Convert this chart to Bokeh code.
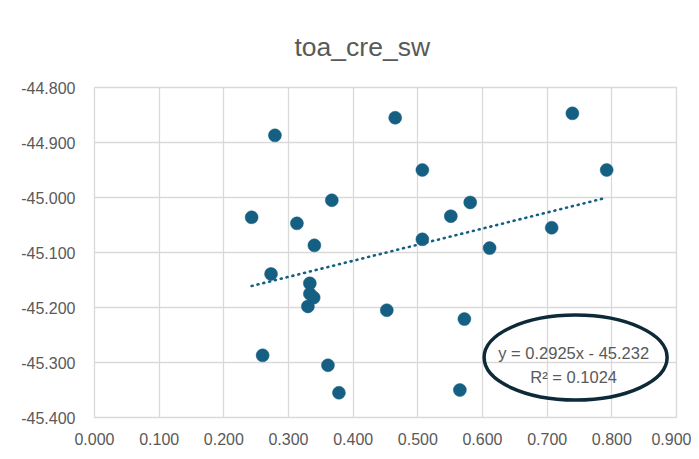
from bokeh.plotting import figure
from bokeh.models import ColumnDataSource, NumeralTickFormatter, FixedTicker, Range1d, Label
from bokeh.embed import file_html
from bokeh.resources import INLINE

# ---- data ----
x_vals = [0.243, 0.273, 0.260, 0.279, 0.313, 0.340, 0.367, 0.333, 0.333, 0.339,
          0.330, 0.361, 0.378, 0.465, 0.507, 0.507, 0.551, 0.581, 0.611, 0.707,
          0.739, 0.792, 0.452, 0.572, 0.565]
y_vals = [-45.036, -45.139, -45.287, -44.887, -45.047, -45.087, -45.005, -45.156, -45.175, -45.182,
          -45.198, -45.305, -45.355, -44.855, -44.950, -45.076, -45.034, -45.009, -45.092, -45.055,
          -44.847, -44.950, -45.205, -45.221, -45.350]
slope = 0.2925
intercept = -45.232
r_squared = 0.1024
title_text = "toa_cre_sw"
x_ticks = [0.0, 0.1, 0.2, 0.3, 0.4, 0.5, 0.6, 0.7, 0.8, 0.9]
y_ticks = [-45.4, -45.3, -45.2, -45.1, -45.0, -44.9, -44.8]

BLUE = "#156082"
GRID = "#d9d9d9"
TXT = "#595959"
FONT = "Liberation Sans"

p = figure(width=691, height=451, output_backend="svg", toolbar_location=None,
           x_range=Range1d(0.0, 0.9), y_range=Range1d(-45.4, -44.8),
           min_border_left=94, min_border_right=15, min_border_top=87, min_border_bottom=34,
           title=title_text)
p.title.align = "left"
p.title.offset = 200
p.title.text_font = FONT
p.title.text_font_size = "26.5px"
p.title.text_font_style = "normal"
p.title.text_color = TXT
p.title.standoff = 51

p.outline_line_color = GRID
p.outline_line_width = 1.3
p.background_fill_color = "white"
p.border_fill_color = "white"

for ax in (p.xaxis[0], p.yaxis[0]):
    ax.axis_line_color = None
    ax.major_tick_line_color = None
    ax.minor_tick_line_color = None
    ax.major_tick_out = 0
    ax.major_tick_in = 0
    ax.major_label_text_font = FONT
    ax.major_label_text_font_size = "16px"
    ax.major_label_text_color = TXT
    ax.formatter = NumeralTickFormatter(format="0.000")

p.xaxis[0].ticker = FixedTicker(ticks=x_ticks)
p.yaxis[0].ticker = FixedTicker(ticks=y_ticks)
p.xaxis[0].major_label_standoff = 15
p.yaxis[0].major_label_standoff = 19

p.xgrid.grid_line_color = GRID
p.ygrid.grid_line_color = GRID
p.xgrid.grid_line_width = 1.3
p.ygrid.grid_line_width = 1.3

# trendline over the x extent of the data
x0, x1 = min(x_vals), max(x_vals)
p.line([x0, x1], [slope * x0 + intercept, slope * x1 + intercept],
       line_color=BLUE, line_width=2.6, line_dash="1 5", line_cap="round")

src = ColumnDataSource(dict(x=x_vals, y=y_vals))
p.scatter("x", "y", source=src, size=13, fill_color=BLUE, line_color=BLUE, line_width=0.5)

# equation label with ellipse annotation
ex, ey = 0.744, -45.291
p.ellipse(x=[ex], y=[ey], width=[183], height=[85], width_units="screen", height_units="screen",
          fill_color=None, line_color="#0d2a38", line_width=3.5)
eq_text = f"y = {slope}x - {abs(intercept)}"
r2_text = f"R² = {r_squared}"
p.add_layout(Label(x=0.741, y=-45.283, text=eq_text, text_align="center", text_baseline="middle",
                   text_font=FONT, text_font_size="16.5px", text_color=TXT))
p.add_layout(Label(x=0.741, y=-45.327, text=r2_text, text_align="center", text_baseline="middle",
                   text_font=FONT, text_font_size="16.5px", text_color=TXT))

open("out.html", "w").write(file_html(p, INLINE))
